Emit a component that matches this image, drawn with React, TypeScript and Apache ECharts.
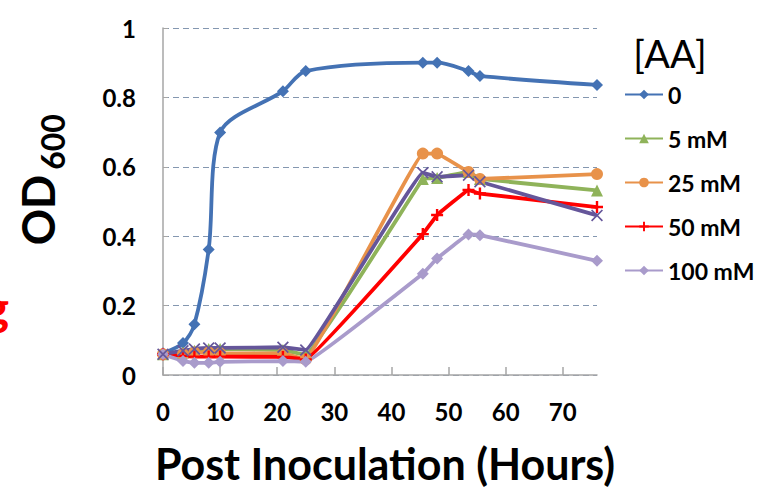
import React, { useEffect, useRef } from "react";
import * as echarts from "echarts";

const hours = [0, 3.5, 5.5, 8, 10, 21, 25, 45.5, 48, 53.5, 55.5, 76];
const aa0 = [0.063, 0.092, 0.146, 0.362, 0.699, 0.818, 0.876, 0.9, 0.9, 0.876, 0.862, 0.836];
const aa5 = [0.06, 0.065, 0.07, 0.075, 0.075, 0.072, 0.058, 0.565, 0.568, 0.585, 0.565, 0.532];
const aa25 = [0.06, 0.06, 0.065, 0.065, 0.062, 0.062, 0.045, 0.638, 0.638, 0.585, 0.565, 0.579];
const aa50 = [0.06, 0.055, 0.053, 0.053, 0.053, 0.052, 0.045, 0.406, 0.461, 0.533, 0.523, 0.484];
const aa100 = [0.06, 0.04, 0.035, 0.035, 0.038, 0.04, 0.038, 0.292, 0.336, 0.405, 0.403, 0.329];
const aaUnlisted = [0.06, 0.07, 0.075, 0.078, 0.078, 0.08, 0.072, 0.583, 0.571, 0.576, 0.557, 0.46];

const legendNames = ["0", "5 mM", "25 mM", "50 mM", "100 mM"];
const xTicks = [0, 10, 20, 30, 40, 50, 60, 70];

const FONT = "Lato, 'Open Sans', sans-serif";
const PLUS = "path://M4,0h2v4h4v2h-4v4h-2v-4h-4v-2h4z";
const CROSS = "path://M0,1L1,0L5,4L9,0L10,1L6,5L10,9L9,10L5,6L1,10L0,9L4,5Z";

function pairs(vals: number[]) {
  return hours.map((h, i) => [h, vals[i]]);
}

export default function App() {
  const ref = useRef<HTMLDivElement>(null);
  useEffect(() => {
    if (!ref.current) return;
    const chart = echarts.init(ref.current, undefined, { renderer: "svg" });
    const mk = (name: string, vals: number[], color: string, symbol: string, size: number, smooth: number) => ({
      name,
      type: "line",
      data: pairs(vals),
      smooth,
      symbol,
      symbolSize: size,
      lineStyle: { color, width: 3.8 },
      itemStyle: { color },
      z: 3,
    });
    chart.setOption({
      animation: false,
      grid: { left: 163, right: 168, top: 28, bottom: 112 },
      xAxis: {
        type: "value",
        min: 0,
        max: 76,
        interval: 10,
        axisLine: { show: true, lineStyle: { color: "#A6A6A6", width: 1.5 } },
        axisTick: { show: true, inside: true, length: 8, lineStyle: { color: "#A6A6A6", width: 1.5 }, customValues: xTicks },
        axisLabel: {
          customValues: xTicks,
          margin: 24,
          color: "#000",
          fontWeight: "bold",
          fontSize: 24,
          fontFamily: FONT,
        },
        splitLine: { show: false },
      },
      yAxis: {
        type: "value",
        min: 0,
        max: 1,
        interval: 0.2,
        axisLine: { show: true, lineStyle: { color: "#A6A6A6", width: 1.5 } },
        axisTick: { show: true, inside: true, length: 5, lineStyle: { color: "#A6A6A6" } },
        axisLabel: {
          margin: 27,
          color: "#000",
          fontWeight: "bold",
          fontSize: 24,
          fontFamily: FONT,
        },
        splitLine: { show: true, lineStyle: { color: "#8497B0", type: [6, 4], width: 1 } },
      },
      legend: {
        data: legendNames,
        orient: "vertical",
        left: 619,
        top: 78,
        itemWidth: 38,
        itemHeight: 12,
        itemGap: 21,
        textStyle: { color: "#000", fontWeight: "bold", fontSize: 23, fontFamily: FONT },
      },
      graphic: [
        {
          type: "text",
          x: 385,
          y: 463,
          style: {
            text: "Post Inoculation (Hours)",
            fontSize: 43,
            fontWeight: "bold",
            fontFamily: FONT,
            fill: "#000",
            textAlign: "center",
            textVerticalAlign: "middle",
          },
        },
        {
          type: "text",
          x: 38,
          y: 210,
          rotation: Math.PI / 2,
          style: {
            text: "OD",
            fontSize: 45,
            fontWeight: "bold",
            fontFamily: FONT,
            fill: "#000",
            textAlign: "center",
            textVerticalAlign: "middle",
          },
        },
        {
          type: "text",
          x: 52,
          y: 142,
          rotation: Math.PI / 2,
          style: {
            text: "600",
            fontSize: 32,
            fontWeight: "bold",
            fontFamily: FONT,
            fill: "#000",
            textAlign: "center",
            textVerticalAlign: "middle",
          },
        },
        {
          type: "text",
          x: 670,
          y: 53,
          style: {
            text: "[AA]",
            fontSize: 38,
            fontWeight: "normal",
            fontFamily: FONT,
            fill: "#000",
            textAlign: "center",
            textVerticalAlign: "middle",
          },
        },
        {
          type: "text",
          x: 9,
          y: 306,
          style: {
            text: "g",
            fontSize: 48,
            fontWeight: "bold",
            fontFamily: FONT,
            fill: "#FF0000",
            textAlign: "right",
            textVerticalAlign: "middle",
          },
        },
      ],
      series: [
        mk("0", aa0, "#4472B4", "diamond", 12, 0.3),
        mk("5 mM", aa5, "#8FB35A", "triangle", 12, 0.05),
        mk("25 mM", aa25, "#E8924A", "circle", 12, 0.05),
        mk("50 mM", aa50, "#FF0000", PLUS, 12, 0.05),
        mk("100 mM", aa100, "#A99BCB", "diamond", 12, 0.05),
        mk("unlisted", aaUnlisted, "#65569A", CROSS, 12, 0.05),
      ],
    });
    return () => chart.dispose();
  }, []);
  return (
    <div
      ref={ref}
      style={{ position: "fixed", left: 0, top: 0, width: 765, height: 487, background: "#fff" }}
    />
  );
}
